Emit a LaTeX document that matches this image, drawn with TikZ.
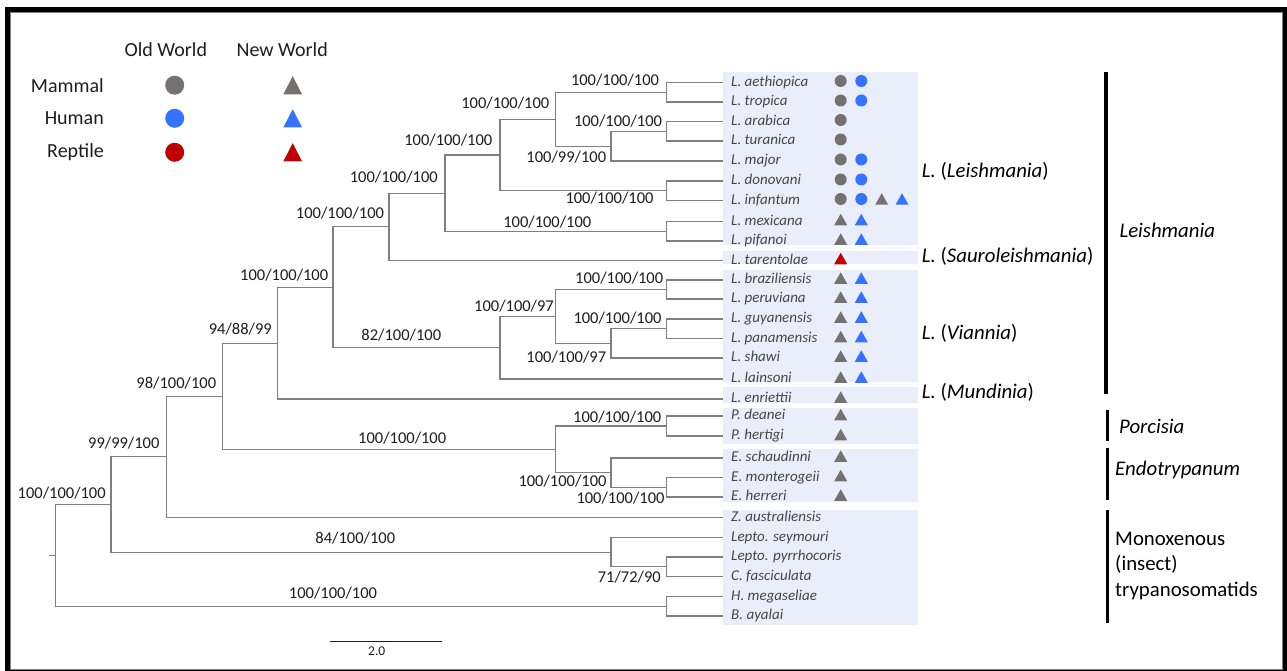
\documentclass[tikz,border=0pt]{standalone}
\usepackage{fontspec}
\setmainfont{Carlito}
\usepackage{tikz}
\usetikzlibrary{calc}
\definecolor{BranchGray}{RGB}{128,128,128}
\definecolor{TaxonGray}{RGB}{70,70,70}
\definecolor{LabelBlack}{RGB}{30,30,30}
\definecolor{SymGray}{RGB}{118,113,113}
\definecolor{SymBlue}{RGB}{51,115,255}
\definecolor{SymRed}{RGB}{192,0,0}
\definecolor{BoxBlue}{RGB}{234,238,250}

\begin{document}
\begin{tikzpicture}[x=1pt, y=-1pt,
	br/.style={draw=BranchGray, line width=1.1pt},
	bs/.style={font=\fontsize{16.5}{19}\selectfont, text=LabelBlack, inner sep=0pt},
	sp/.style={font=\fontsize{15}{18}\selectfont\itshape, text=TaxonGray, inner sep=0pt},
	lg/.style={font=\fontsize{20}{24}\selectfont, text=LabelBlack, inner sep=0pt},
	grp/.style={font=\fontsize{20.8}{25.5}\selectfont, text=black, inner sep=0pt, anchor=west},
	bar/.style={line width=3.5pt, black}]
	\useasboundingbox (0,0) rectangle (1287,671);

	% ---------- marco ----------
	\fill[black] (5,7) rectangle (1287,671);
	\fill[white] (10.5,12) rectangle (1282.5,669.5);
	\draw[gray, line width=0.8pt] (10.5,12) rectangle (1282.5,669.5);

	% ---------- leyenda ----------
	\node[lg] (ow) at (165.8,49.3) {Old World};
	\node[lg] (nw) at (282.2,49.3) {New World};
	\foreach \n/\y/\t/\c in {mam/85.2/Mammal/SymGray, hum/118.3/Human/SymBlue, rep/152.3/Reptile/SymRed}{
		\node[lg, anchor=east] (l\n) at (104,\y) {\t};
		\fill[\c] (174.7,\y) circle (9.5);
		\fill[\c] (292.7-9.35,\y+9.1) -- ++(18.7,0) -- ++(-9.35,-18.2) -- cycle;
	}

	% ---------- cajas ----------
	\foreach \a/\b in {71.7/245, 251/264.3, 270/381.7, 386.7/403.3, 408.3/444, 449.3/501.7, 510/625}{
		\fill[BoxBlue] (722.7,\a) rectangle (918.3,\b);
	}

	% ---------- hojas ----------
	\foreach \n/\y/\t in {aeth/82.5/L. aethiopica, trop/102/L. tropica, arab/121.5/L. arabica,
		tura/141/L. turanica, majo/161/L. major, dono/181/L. donovani, infa/200.5/L. infantum,
		mexi/221.5/L. mexicana, pifa/241/L. pifanoi, tare/260.5/L. tarentolae,
		braz/280/L. braziliensis, peru/299/L. peruviana, guya/319/L. guyanensis,
		pana/338.5/L. panamensis, shaw/358/L. shawi, lain/379/L. lainsoni,
		enri/399/L. enriettii, dean/416/P. deanei, hert/436/P. hertigi,
		scha/458/E. schaudinni, mont/477.5/E. monterogeii, herr/497/E. herreri,
		zaus/517.5/Z. australiensis, seym/537.5/Lepto. seymouri, pyrr/557/Lepto. pyrrhocoris,
		fasc/576.5/C. fasciculata, mega/596.5/H. megaseliae, ayal/616/B. ayalai}{
		\coordinate (\n) at (723,\y);
		\node[sp, anchor=base west] (t\n) at (731,\y+3.8) {\t};
	}

	% ---------- hospedadores ----------
	\foreach \x/\y/\c in {840.7/81/SymGray, 861.3/81/SymBlue, 840.7/100.5/SymGray, 861.3/100.5/SymBlue,
		840.7/120/SymGray, 840.7/139.5/SymGray, 840.7/159.5/SymGray, 861.3/159.5/SymBlue,
		840.7/179.5/SymGray, 861.3/179.5/SymBlue, 840.7/199/SymGray, 861.3/199/SymBlue}{
		\fill[\c] (\x,\y) circle (6);
	}
	\foreach \x/\y/\c in {881.7/199/SymGray, 902/199/SymBlue,
		840.7/219.5/SymGray, 861.3/219.5/SymBlue, 840.7/239/SymGray, 861.3/239/SymBlue,
		840.7/258.5/SymRed,
		840.7/278/SymGray, 861.3/278/SymBlue, 840.7/297/SymGray, 861.3/297/SymBlue,
		840.7/317/SymGray, 861.3/317/SymBlue, 840.7/336.5/SymGray, 861.3/336.5/SymBlue,
		840.7/356/SymGray, 861.3/356/SymBlue, 840.7/377/SymGray, 861.3/377/SymBlue,
		840.7/397/SymGray, 840.7/414.5/SymGray, 840.7/434.5/SymGray,
		840.7/456/SymGray, 840.7/475.5/SymGray, 840.7/495/SymGray}{
		\fill[\c] (\x-6.5,\y+5.75) -- ++(13,0) -- ++(-6.5,-11.5) -- cycle;
	}

	% ---------- nodos internos ----------
	\foreach \n/\x/\y in {nat/666.7/92.25, nar/666.7/131.25, narm/611/146.1, natm/555.7/119.2,
		ndi/666.7/190.75, nla/500/155, nmp/666.7/231.25, nlb/445/193.1, nlc/389/226.8,
		nbp/666.7/289.5, ngp/666.7/328.75, ngps/611/343.4, nva/555.7/316.4, nvb/500/347.7,
		nld/333/287.3, nle/277.7/343.1, npd/666.7/426, neh/666.7/487.25, nes/611/472.6,
		npe/555.7/449.3, nlf/222.3/396.2, nlg/166.7/456.9, ncf/666.7/566.75, nls/611/552.1,
		nlh/111/504.5, nhb/666.7/606.25, root/55.7/555.4, stub/49/555.4}{
		\coordinate (\n) at (\x,\y);
	}

	% ---------- ramas ----------
	\foreach \p/\c in {nat/aeth, nat/trop, nar/arab, nar/tura, narm/nar, narm/majo,
		natm/nat, natm/narm, ndi/dono, ndi/infa, nla/natm, nla/ndi, nmp/mexi, nmp/pifa,
		nlb/nla, nlb/nmp, nlc/nlb, nlc/tare, nbp/braz, nbp/peru, ngp/guya, ngp/pana,
		ngps/ngp, ngps/shaw, nva/nbp, nva/ngps, nvb/nva, nvb/lain, nld/nlc, nld/nvb,
		nle/nld, nle/enri, npd/dean, npd/hert, neh/mont, neh/herr, nes/scha, nes/neh,
		npe/npd, npe/nes, nlf/nle, nlf/npe, nlg/nlf, nlg/zaus, ncf/pyrr, ncf/fasc,
		nls/seym, nls/ncf, nlh/nlg, nlh/nls, nhb/mega, nhb/ayal, root/nlh, root/nhb}{
		\draw[br] (\p) |- (\c);
	}
	\draw[br] (stub) -- (root);

	% ---------- soporte ----------
	\foreach \i/\x/\y/\t in {1/615/80/{100/100/100}, 2/505.3/103.3/{100/100/100}, 3/618/121/{100/100/100},
		4/566.3/156.7/{100/99/100}, 5/609.5/198.3/{100/100/100}, 6/547.3/222.3/{100/100/100},
		7/448.3/140/{100/100/100}, 8/393.8/177.3/{100/100/100}, 9/340/212.7/{100/100/100},
		10/284.2/275/{100/100/100}, 11/240.3/329.3/{94/88/99}, 12/176.3/382.7/{98/100/100},
		13/123.8/442.7/{99/99/100}, 14/61.7/493.3/{100/100/100}, 15/401.3/335/{82/100/100},
		16/402.2/437.7/{100/100/100}, 17/355.3/538.3/{84/100/100}, 18/333/593.3/{100/100/100},
		19/619.2/278.3/{100/100/100}, 20/514/306/{100/100/97}, 21/617.5/318.3/{100/100/100},
		22/566.3/356.7/{100/100/97}, 23/617.2/417.3/{100/100/100}, 24/562.5/480.7/{100/100/100},
		25/620.5/498.3/{100/100/100}, 26/629.3/576.7/{71/72/90}}{
		\node[bs] (bs\i) at (\x,\y) {\t};
	}

	% ---------- subgeneros y grupos ----------
	\node[grp] (sgl) at (921.7,171.7) {\textit{L.} (\textit{Leishmania})};
	\node[grp] (sgs) at (921.7,256.7) {\textit{L.} (\textit{Sauroleishmania})};
	\node[grp] (sgv) at (921.7,333.3) {\textit{L.} (\textit{Viannia})};
	\node[grp] (sgm) at (921.7,392) {\textit{L.} (\textit{Mundinia})};
	\draw[bar] (1106,72.3) -- (1106,394.3);
	\draw[bar] (1107.3,410) -- (1107.3,441);
	\draw[bar] (1107.3,447.7) -- (1107.3,500);
	\draw[bar] (1107.5,510) -- (1107.5,623.3);
	\node[grp] (gle) at (1119.3,230) {\textit{Leishmania}};
	\node[grp] (gpo) at (1119,426.7) {\textit{Porcisia}};
	\node[grp] (gen) at (1115,470) {\textit{Endotrypanum}};
	\node[grp, align=left] (gmo) at (1115,565.5) {Monoxenous\\(insect)\\trypanosomatids};

	% ---------- escala ----------
	\draw[LabelBlack, line width=0.8pt] (330,641.7) -- (441.7,641.7);
	\node[bs, font=\fontsize{13.5}{16}\selectfont] (esc) at (376.7,651.5) {2.0};
\end{tikzpicture}
\end{document}
